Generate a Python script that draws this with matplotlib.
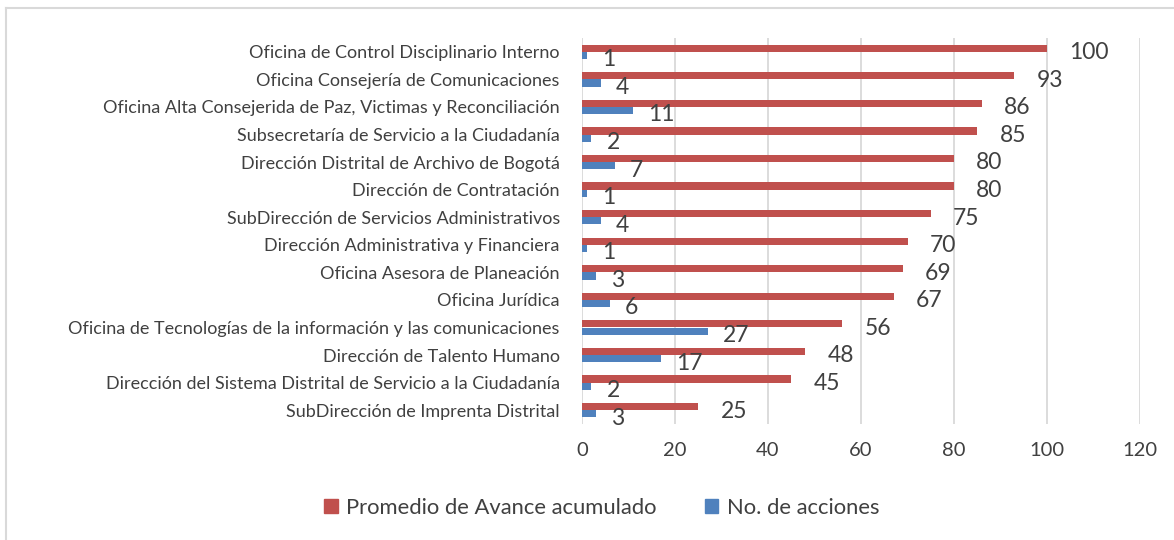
import matplotlib
matplotlib.use("Agg")
import matplotlib.pyplot as plt
import numpy as np
from matplotlib.patches import Patch
from matplotlib.lines import Line2D

categories = [
    "Oficina de Control Disciplinario Interno",
    "Oficina Consejería de Comunicaciones",
    "Oficina Alta Consejerida de Paz, Victimas y Reconciliación",
    "Subsecretaría de Servicio a la Ciudadanía",
    "Dirección Distrital de Archivo de Bogotá",
    "Dirección de Contratación",
    "SubDirección de Servicios Administrativos",
    "Dirección Administrativa y Financiera",
    "Oficina Asesora de Planeación",
    "Oficina Jurídica",
    "Oficina de Tecnologías de la información y las comunicaciones",
    "Dirección de Talento Humano",
    "Dirección del Sistema Distrital de Servicio a la Ciudadanía",
    "SubDirección de Imprenta Distrital",
]
avance = [100, 93, 86, 85, 80, 80, 75, 70, 69, 67, 56, 48, 45, 25]
acciones = [1, 4, 11, 2, 7, 1, 4, 1, 3, 6, 27, 17, 2, 3]
series_names = ["Promedio de Avance acumulado", "No. de acciones"]
xticks = [0, 20, 40, 60, 80, 100, 120]

RED = "#C0504D"
BLUE = "#4F81BD"
TXT = "#404040"
FONT = ["Lato", "DejaVu Sans"]
plt.rcParams["font.family"] = FONT

fig = plt.figure(figsize=(11.74, 5.40), dpi=100)
ax = fig.add_axes([582/1174, 1-424/540, (1140-582)/1174, (424-38)/540])

n = len(categories)
y = np.arange(n)
h = 0.26
ax.barh(y - h/2, avance, height=h, color=RED, zorder=3)
ax.barh(y + h/2, acciones, height=h, color=BLUE, zorder=3)
ax.set_ylim(n - 0.5, -0.5)
ax.set_xlim(0, 120)
ax.set_xticks(xticks)
ax.set_yticks(y)
ax.set_yticklabels(categories, fontsize=13, color=TXT)
ax.tick_params(axis="y", length=0, pad=16)
ax.tick_params(axis="x", length=0, pad=13, labelsize=14.5, labelcolor=TXT)
ax.grid(axis="x", color="#D9D9D9", linewidth=1.3, zorder=0)
for s in ax.spines.values():
    s.set_visible(False)

for i in range(n):
    ax.annotate(str(avance[i]), (avance[i], y[i] - h/2), xytext=(16, -3.2),
                textcoords="offset points", ha="left", va="center",
                fontsize=16.5, color=TXT)
    ax.annotate(str(acciones[i]), (acciones[i], y[i] + h/2), xytext=(11, -3.2),
                textcoords="offset points", ha="left", va="center",
                fontsize=16.5, color=TXT)

handles = [Patch(color=RED), Patch(color=BLUE)]
fig.legend(handles, series_names, loc="center", bbox_to_anchor=(602/1174, 1-508/540),
           ncol=2, frameon=False, fontsize=15.8, handlelength=0.6, handleheight=0.6,
           handletextpad=0.4, columnspacing=2.2, labelcolor=TXT)

fig.add_artist(Line2D([6/1174, 6/1174], [0, 1-8/540], transform=fig.transFigure,
                      color="#D9D9D9", linewidth=1.5))
fig.add_artist(Line2D([6/1174, 1], [1-8/540, 1-8/540], transform=fig.transFigure,
                      color="#D9D9D9", linewidth=1.5))

fig.savefig("out.png", dpi=100)
